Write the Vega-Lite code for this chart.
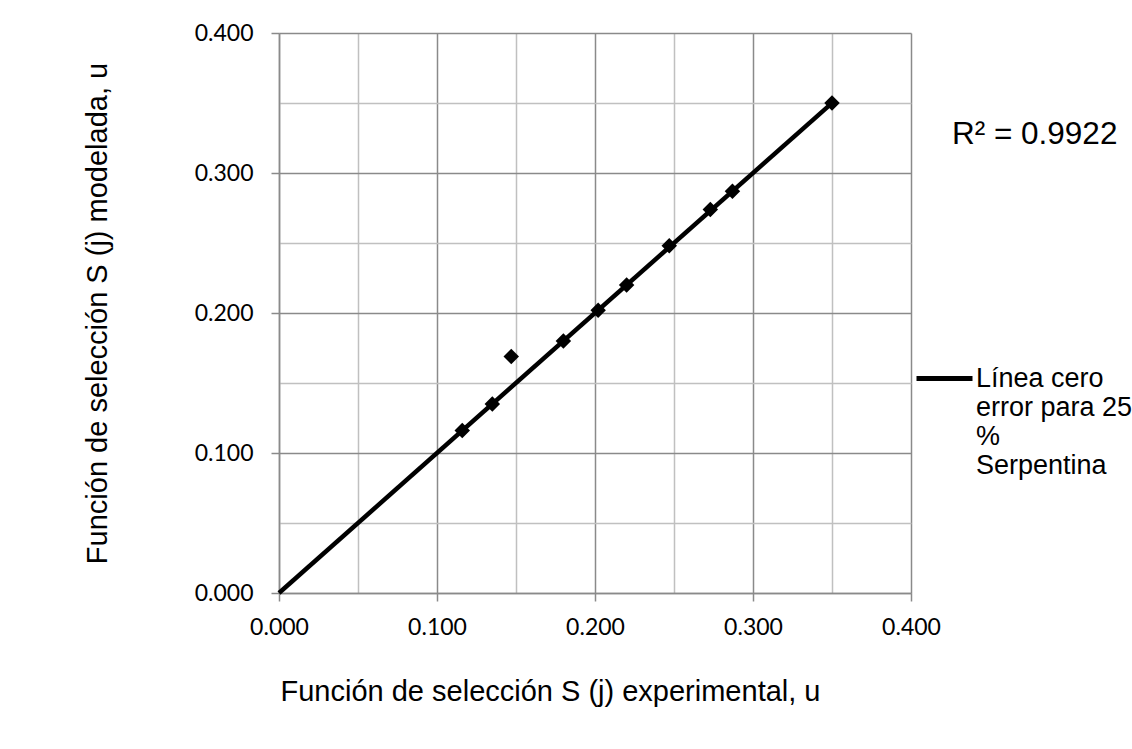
{
  "$schema": "https://vega.github.io/schema/vega-lite/v6.json",
  "width": 632,
  "height": 560,
  "autosize": {"type": "none"},
  "padding": {"left": 279, "top": 33, "right": 221, "bottom": 156},
  "background": "white",
  "config": {"view": {"stroke": null}},
  "datasets": {
    "puntos": [
      {"exp": 0.116, "mod": 0.116},
      {"exp": 0.135, "mod": 0.135},
      {"exp": 0.147, "mod": 0.169},
      {"exp": 0.180, "mod": 0.180},
      {"exp": 0.202, "mod": 0.202},
      {"exp": 0.220, "mod": 0.220},
      {"exp": 0.247, "mod": 0.248},
      {"exp": 0.273, "mod": 0.274},
      {"exp": 0.287, "mod": 0.287},
      {"exp": 0.350, "mod": 0.350}
    ],
    "linea": [
      {"exp": 0, "mod": 0, "serie": "Línea cero error para 25 % Serpentina"},
      {"exp": 0.351, "mod": 0.351, "serie": "Línea cero error para 25 % Serpentina"}
    ],
    "r2": [{"texto": "R² = 0.9922"}]
  },
  "layer": [
    {
      "data": {"name": "linea"},
      "mark": {"type": "line", "strokeWidth": 4.5, "color": "black"},
      "encoding": {
        "x": {
          "field": "exp", "type": "quantitative",
          "scale": {"domain": [0, 0.4], "nice": false, "zero": false},
          "axis": {
            "values": [0, 0.05, 0.1, 0.15, 0.2, 0.25, 0.3, 0.35, 0.4],
            "format": ".3f",
            "labelExpr": "round(datum.value*20)%2==1 ? '' : datum.label",
            "gridColor": {"condition": {"test": "round(datum.value*20)%2==1", "value": "#c0c0c0"}, "value": "#8a8a8a"},
            "tickOpacity": {"condition": {"test": "round(datum.value*20)%2==1", "value": 0}, "value": 1},
            "gridWidth": 1.5,
            "tickColor": "#8a8a8a", "tickSize": 8, "tickWidth": 1.5,
            "domainColor": "#8a8a8a", "domainWidth": 1.5,
            "labelFont": "Lato", "labelFontSize": 23, "labelColor": "black",
            "labelPadding": 15, "labelFlush": false, "labelOverlap": false,
            "title": "Función de selección S (j) experimental, u",
            "titleFont": "Liberation Sans", "titleFontSize": 29, "titleFontWeight": "normal",
            "titleColor": "black", "titlePadding": 38,
            "titleX": 271, "titleAlign": "center"
          }
        },
        "y": {
          "field": "mod", "type": "quantitative",
          "scale": {"domain": [0, 0.4], "nice": false, "zero": false},
          "axis": {
            "values": [0, 0.05, 0.1, 0.15, 0.2, 0.25, 0.3, 0.35, 0.4],
            "format": ".3f",
            "labelExpr": "round(datum.value*20)%2==1 ? '' : datum.label",
            "gridColor": {"condition": {"test": "round(datum.value*20)%2==1", "value": "#c0c0c0"}, "value": "#8a8a8a"},
            "tickOpacity": {"condition": {"test": "round(datum.value*20)%2==1", "value": 0}, "value": 1},
            "gridWidth": 1.5,
            "tickColor": "#8a8a8a", "tickSize": 8, "tickWidth": 1.5,
            "domainColor": "#8a8a8a", "domainWidth": 1.5,
            "labelFont": "Lato", "labelFontSize": 23, "labelColor": "black",
            "labelPadding": 18, "labelFlush": false, "labelOverlap": false,
            "title": "Función de selección S (j) modelada, u",
            "titleFont": "Liberation Sans", "titleFontSize": 29, "titleFontWeight": "normal",
            "titleColor": "black", "titlePadding": 82
          }
        },
        "color": {
          "field": "serie", "type": "nominal",
          "scale": {"range": ["black"]},
          "legend": {
            "orient": "none", "legendX": 635, "legendY": 315,
            "title": null,
            "symbolType": "stroke", "symbolSize": 3136, "symbolStrokeWidth": 5,
            "symbolStrokeColor": "black",
            "labelFont": "Liberation Sans", "labelFontSize": 27, "labelColor": "black",
            "labelOffset": 1, "labelLimit": 400,
            "labelExpr": "['Línea cero', 'error para 25', '%', 'Serpentina']"
          }
        }
      }
    },
    {
      "data": {"name": "puntos"},
      "mark": {"type": "point", "shape": "diamond", "filled": true, "size": 240, "color": "black", "opacity": 1},
      "encoding": {
        "x": {"field": "exp", "type": "quantitative"},
        "y": {"field": "mod", "type": "quantitative"}
      }
    },
    {
      "data": {"name": "r2"},
      "mark": {"type": "text", "font": "Liberation Sans", "fontSize": 31.5, "align": "left", "baseline": "middle", "color": "black"},
      "encoding": {
        "x": {"datum": 0.4259, "type": "quantitative"},
        "y": {"datum": 0.3268, "type": "quantitative"},
        "text": {"field": "texto", "type": "nominal"}
      }
    }
  ]
}
